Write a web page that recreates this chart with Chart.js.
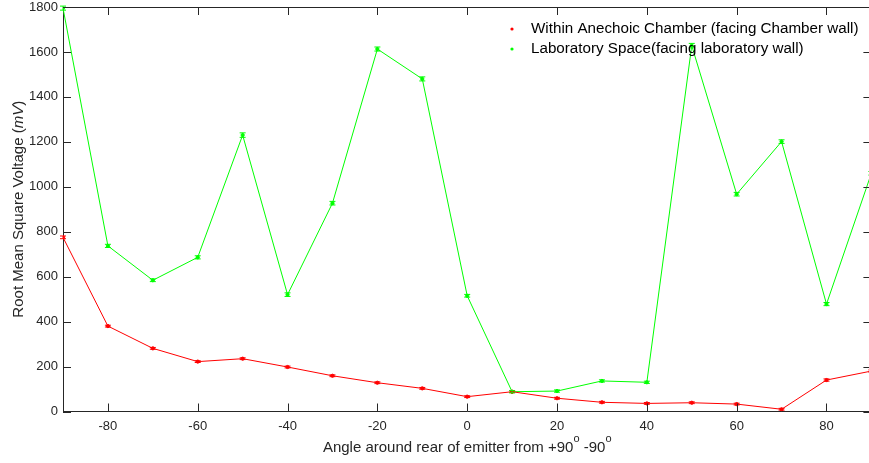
<!DOCTYPE html>
<html lang="en">
<head>
  <meta charset="UTF-8">
  <title>RMS voltage around emitter</title>
  <style>
    html, body { margin: 0; padding: 0; background: #fff; overflow: hidden; }
    /* plot box runs a few px past the window edge, like the cropped original */
    #wrap { width: 874px; height: 463px; }
  </style>
  <script src="https://cdn.jsdelivr.net/npm/chart.js"></script>
</head>
<body>
  <div id="wrap"><canvas id="chart"></canvas></div>
  <script>
    // angles (deg) around rear of the emitter
    const angles = [-90, -80, -70, -60, -50, -40, -30, -20, -10, 0, 10, 20, 30, 40, 50, 60, 70, 80, 90];
    // RMS voltage (mV) inside the anechoic chamber
    const chamber = [775, 380, 281, 222, 235, 198, 159, 128, 103, 66, 88, 59, 41, 36, 39, 33, 10, 140, 180];
    const chamberErr = [6, 4, 4, 4, 4, 4, 4, 4, 4, 4, 4, 4, 4, 4, 4, 4, 4, 5, 5];
    // RMS voltage (mV) in the laboratory space
    const lab = [1795, 737, 584, 686, 1230, 520, 927, 1613, 1480, 515, 88, 91, 136, 130, 1628, 967, 1201, 478, 1060];
    const labErr = [9, 7, 6, 7, 10, 8, 8, 9, 9, 6, 5, 5, 5, 5, 10, 8, 8, 7, 8];

    const xTicks = [-80, -60, -40, -20, 0, 20, 40, 60, 80];
    const yTicks = [0, 200, 400, 600, 800, 1000, 1200, 1400, 1600, 1800];

    const FONT = '"Liberation Sans", Arial, sans-serif';
    const AXIS = '#262626';
    const TICK_LEN = 8;

    const errors = [chamberErr, labErr];

    // error bars, inward ticks, top border, legend and axis titles
    const decor = {
      id: 'decor',
      afterDatasetsDraw(chart) {
        const ctx = chart.ctx;
        const x = chart.scales.x, y = chart.scales.y;
        ctx.save();
        chart.data.datasets.forEach((ds, i) => {
          ctx.strokeStyle = ds.borderColor;
          ctx.lineWidth = 1;
          ds.data.forEach((p, j) => {
            const px = x.getPixelForValue(p.x);
            const lo = y.getPixelForValue(p.y - errors[i][j]);
            const hi = y.getPixelForValue(p.y + errors[i][j]);
            ctx.beginPath();
            ctx.moveTo(px, lo); ctx.lineTo(px, hi);
            ctx.moveTo(px - 3, lo); ctx.lineTo(px + 3, lo);
            ctx.moveTo(px - 3, hi); ctx.lineTo(px + 3, hi);
            ctx.stroke();
          });
        });
        ctx.restore();
      },
      afterDraw(chart) {
        const ctx = chart.ctx;
        const a = chart.chartArea;
        const x = chart.scales.x, y = chart.scales.y;
        ctx.save();
        ctx.strokeStyle = AXIS;
        ctx.lineWidth = 1;
        ctx.beginPath();
        ctx.moveTo(a.left, a.top + 0.5); ctx.lineTo(a.right, a.top + 0.5);
        ctx.moveTo(a.right - 0.5, a.top); ctx.lineTo(a.right - 0.5, a.bottom);
        xTicks.forEach(v => {
          const px = Math.round(x.getPixelForValue(v)) + 0.5;
          ctx.moveTo(px, a.bottom); ctx.lineTo(px, a.bottom - TICK_LEN);
          ctx.moveTo(px, a.top); ctx.lineTo(px, a.top + TICK_LEN);
        });
        yTicks.forEach(v => {
          const py = Math.round(y.getPixelForValue(v)) + 0.5;
          ctx.moveTo(a.left, py); ctx.lineTo(a.left + TICK_LEN, py);
          ctx.moveTo(a.right, py); ctx.lineTo(a.right - TICK_LEN, py);
        });
        ctx.stroke();

        // legend
        ctx.textBaseline = 'middle';
        ctx.textAlign = 'left';
        ctx.font = '15.2px ' + FONT;
        chart.data.datasets.forEach((ds, i) => {
          const ly = 29 + i * 20;
          ctx.fillStyle = ds.borderColor;
          ctx.beginPath();
          ctx.arc(512, ly, 1.6, 0, Math.PI * 2);
          ctx.fill();
          ctx.fillStyle = '#000';
          ctx.fillText(ds.label, 531, ly);
        });

        // x title with superscript degree marks
        const parts = [
          ['Angle around rear of emitter from +90', '15px ' + FONT, 0],
          ['o', '11px ' + FONT, -10],
          [' -90', '15px ' + FONT, 0],
          ['o', '11px ' + FONT, -10]
        ];
        let w = 0;
        parts.forEach(p => { ctx.font = p[1]; w += ctx.measureText(p[0]).width; });
        let cx = (a.left + a.right) / 2 - w / 2;
        ctx.fillStyle = AXIS;
        ctx.textBaseline = 'alphabetic';
        parts.forEach(p => {
          ctx.font = p[1];
          ctx.fillText(p[0], cx, 452 + p[2]);
          cx += ctx.measureText(p[0]).width;
        });

        // y title, "mV" in italics
        const yparts = [
          ['Root Mean Square Voltage (', '15px ' + FONT],
          ['mV', 'italic 15px ' + FONT],
          [')', '15px ' + FONT]
        ];
        w = 0;
        yparts.forEach(p => { ctx.font = p[1]; w += ctx.measureText(p[0]).width; });
        ctx.translate(19, (a.top + a.bottom) / 2);
        ctx.rotate(-Math.PI / 2);
        ctx.textBaseline = 'middle';
        let cy = -w / 2;
        yparts.forEach(p => {
          ctx.font = p[1];
          ctx.fillText(p[0], cy, 0);
          cy += ctx.measureText(p[0]).width;
        });
        ctx.restore();
      }
    };

    const toPoints = vals => angles.map((a, i) => ({ x: a, y: vals[i] }));

    new Chart(document.getElementById('chart'), {
      type: 'line',
      data: {
        datasets: [
          {
            label: 'Within Anechoic Chamber (facing Chamber wall)',
            data: toPoints(chamber),
            borderColor: '#ff0000',
            backgroundColor: '#ff0000',
            borderWidth: 1,
            pointRadius: 1.6,
            pointHoverRadius: 1.6,
            tension: 0
          },
          {
            label: 'Laboratory Space(facing laboratory wall)',
            data: toPoints(lab),
            borderColor: '#00ff00',
            backgroundColor: '#00ff00',
            borderWidth: 1,
            pointRadius: 1.6,
            pointHoverRadius: 1.6,
            tension: 0
          }
        ]
      },
      options: {
        responsive: true,
        maintainAspectRatio: false,
        animation: false,
        events: [],
        layout: { padding: { top: 7, right: 1, left: 0, bottom: 0 } },
        plugins: {
          legend: { display: false },
          tooltip: { enabled: false }
        },
        scales: {
          x: {
            type: 'linear',
            min: -90,
            max: 90,
            afterBuildTicks: s => { s.ticks = xTicks.map(v => ({ value: v })); },
            afterFit: s => { s.height = 51.5; s.paddingLeft = 0; s.paddingRight = 0; },
            grid: { display: false, drawTicks: false },
            border: { display: true, color: AXIS, width: 1 },
            ticks: {
              color: AXIS,
              font: { family: FONT, size: 13 },
              padding: 7,
              maxRotation: 0,
              callback: v => String(v)
            }
          },
          y: {
            type: 'linear',
            min: 0,
            max: 1800,
            afterBuildTicks: s => { s.ticks = yTicks.map(v => ({ value: v })); },
            afterFit: s => { s.width = 63; s.paddingTop = 0; s.paddingBottom = 0; },
            grid: { display: false, drawTicks: false },
            border: { display: true, color: AXIS, width: 1 },
            ticks: {
              color: AXIS,
              font: { family: FONT, size: 13 },
              padding: 5,
              callback: v => String(v)
            }
          }
        }
      },
      plugins: [decor]
    });
  </script>
</body>
</html>
